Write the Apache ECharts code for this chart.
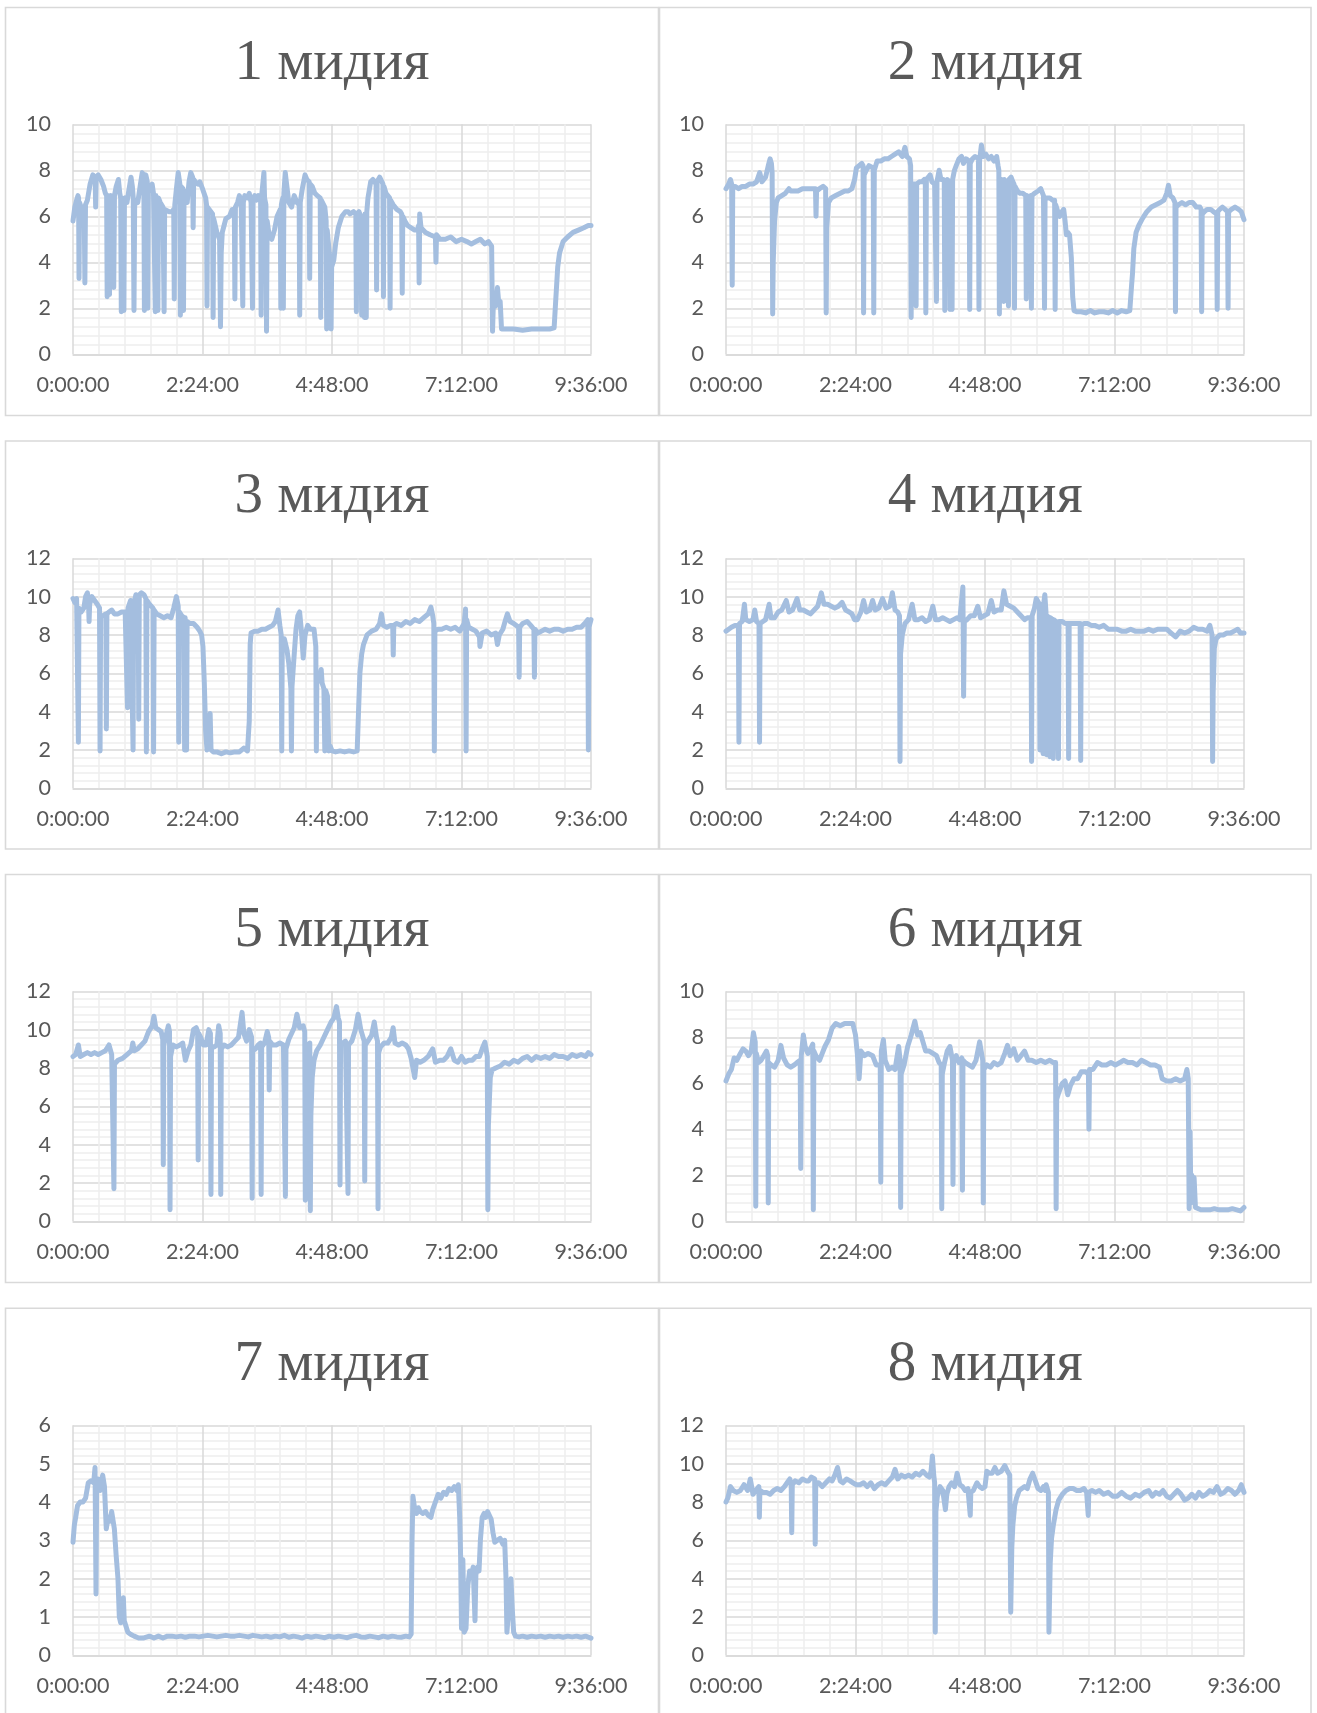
<!DOCTYPE html>
<html>
<head>
<meta charset="utf-8">
<script src="https://cdn.jsdelivr.net/npm/echarts/dist/echarts.min.js"></script>
<style>
  html, body { margin: 0; padding: 0; background: #ffffff; }
  #chart { width: 1317px; height: 1713px; }
</style>
</head>
<body>
<div id="chart"></div>
<script>
// Time axis: minutes from start, labelled as h:mm:ss every 144 minutes
const timeTicks = ['0:00:00', '2:24:00', '4:48:00', '7:12:00', '9:36:00'];
const panelTitles = ['1 мидия', '2 мидия', '3 мидия', '4 мидия', '5 мидия', '6 мидия', '7 мидия', '8 мидия'];
const yMax = [10, 10, 12, 12, 12, 10, 6, 12];
const yStep = [2, 2, 2, 2, 2, 2, 1, 2];

// Each series: [minute, value]
const mussel1 = [[0,5.8],[2,6.4],[4,6.7],[5.5,6.9],[6.2,6.8],[6.7,3.3],[7.3,6.6],[9,6.4],[12.5,6.3],[13.2,3.1],[13.9,6.5],[16,6.7],[19,7.4],[22,7.8],[24.6,7.7],[25.2,6.4],[25.8,7.7],[28,7.8],[31,7.6],[34,7.3],[36,7.0],[37.4,6.9],[38,2.5],[38.6,6.9],[40,6.9],[40.6,2.6],[41.2,6.8],[42,6.9],[44.5,6.8],[45.3,2.9],[46.1,6.9],[48,7.3],[50.5,7.6],[52,7.0],[53,6.8],[53.7,1.85],[54.4,6.8],[56,6.6],[56.6,1.9],[57.2,6.7],[58,6.8],[60,6.6],[62,7.1],[64.5,7.7],[66,7.3],[67,6.8],[67.8,1.9],[68.6,6.7],[72,6.6],[75,7.4],[77,7.9],[78,7.7],[78.8,7.6],[79.4,1.9],[80,7.6],[81,7.8],[82.6,7.5],[83.2,2.0],[83.8,7.2],[86,7.2],[88,7.4],[89.5,7.0],[90.9,7.0],[91.5,1.85],[92.1,6.9],[93.8,6.9],[94.4,1.9],[95,6.8],[97,6.6],[100,6.4],[100.7,6.4],[101.3,1.85],[101.9,6.3],[104,6.3],[107,6.2],[110,6.2],[112,6.3],[112.6,2.4],[113.2,6.5],[115,7.2],[117,7.9],[118.5,7.5],[118.8,7.4],[119.4,1.7],[120,7.3],[121,7.3],[122.3,7.2],[122.9,1.9],[123.5,7.1],[125,6.8],[127,6.6],[129,7.5],[131,7.9],[133,7.7],[133.6,5.5],[134.2,7.6],[136,7.5],[139,7.4],[141,7.5],[144,7.2],[146,7.2],[147.5,6.8],[148.5,6.5],[149,2.1],[149.6,6.4],[151,6.4],[155.2,6.1],[155.8,1.6],[156.4,5.9],[158,5.9],[160,5.3],[163,5.0],[164,1.2],[164.8,4.4],[166,5.3],[168,5.6],[170,5.9],[174,6.0],[177,6.3],[179.4,6.3],[180,2.4],[180.6,6.4],[183,6.6],[185,6.9],[187,6.6],[188.2,6.6],[188.8,2.1],[189.4,6.6],[191,6.9],[194,6.8],[196,7.0],[198,6.6],[199,6.6],[199.6,2.0],[200.2,6.7],[202,6.9],[204,6.7],[206,6.9],[208.6,6.8],[209.2,1.7],[209.8,6.9],[211.5,6.9],[212.3,7.9],[213,6.8],[214.5,6.5],[215.2,1.0],[215.9,5.8],[218,5.2],[221,5.0],[224,5.4],[227,6.0],[230.5,6.3],[231.1,2.0],[231.7,6.5],[233.3,6.8],[233.9,2.0],[234.5,7.0],[236,7.9],[237.5,7.4],[240,6.6],[243,6.4],[246,6.9],[249,6.6],[251.5,6.5],[252.1,1.7],[252.7,6.6],[255,7.2],[258,7.8],[260,7.6],[262.6,7.5],[263.2,3.3],[263.8,7.4],[266,7.3],[269,7.0],[271.5,6.9],[274.9,6.8],[275.5,1.6],[276.1,6.7],[278,6.7],[280,6.4],[281.5,5.8],[282.1,1.1],[282.7,5.4],[285,4.4],[286.5,4.0],[287,1.1],[287.6,3.8],[290,4.1],[292,4.8],[295,5.5],[299,6.0],[303,6.2],[306,6.2],[308,6.1],[312,6.2],[314.5,6.1],[315.1,1.85],[315.7,6.1],[318,6.2],[320,6.0],[321,1.7],[321.6,6.0],[323.5,6.0],[324.1,1.6],[324.7,6.1],[325.5,5.8],[326.1,1.6],[326.7,6.2],[328,6.8],[331,7.5],[333.5,7.6],[337,7.4],[337.6,2.8],[338.2,7.5],[341,7.7],[343.5,7.5],[344.6,7.4],[345.2,2.5],[345.8,7.3],[348,7.0],[352,6.8],[352.6,2.0],[353.2,6.7],[356,6.5],[360,6.3],[364,6.2],[365.5,6.1],[366.1,2.65],[366.7,6.0],[369,5.8],[372,5.6],[376,5.5],[380,5.4],[383,5.4],[384.3,5.6],[384.9,3.1],[385.5,6.1],[387,5.5],[392,5.3],[397,5.2],[403,5.1],[403.6,4.0],[404.2,5.2],[408,5.0],[414,5.0],[420,5.1],[426,4.9],[432,5.0],[438,4.9],[443,4.8],[448,4.9],[453,5.0],[458,4.8],[462,4.9],[465.5,4.7],[466.5,1.0],[467.5,2.3],[470,2.1],[472,2.9],[473.5,2.2],[475,2.3],[476.5,1.1],[480,1.1],[490,1.1],[500,1.05],[510,1.1],[520,1.1],[530,1.1],[535,1.15],[537,2.5],[539,3.8],[541,4.4],[545,4.9],[550,5.1],[556,5.3],[562,5.4],[568,5.5],[573,5.6],[576,5.6]];

const mussel2 = [[0,7.2],[3,7.4],[5,7.6],[6.3,7.4],[6.9,3.0],[7.5,7.3],[10,7.3],[14,7.2],[18,7.3],[22,7.3],[26,7.4],[30,7.4],[34,7.5],[37.5,7.9],[40,7.5],[44,7.7],[47,8.2],[49,8.5],[50.5,8.3],[51.3,7.9],[51.9,1.75],[52.5,4.0],[54,5.8],[56,6.6],[58,6.8],[62,6.9],[66,7.0],[70,7.2],[72,7.1],[76,7.1],[80,7.1],[85,7.2],[90,7.2],[95,7.2],[99.5,7.2],[100.1,6.0],[100.7,7.1],[104,7.2],[108,7.3],[110.8,7.2],[111.4,1.8],[112,5.5],[114,6.6],[117,6.8],[122,6.9],[127,7.0],[132,7.1],[136,7.1],[140,7.2],[143,7.6],[145,8.1],[148,8.2],[151,8.3],[152.4,8.2],[153,1.8],[153.6,7.8],[156,8.0],[159,8.2],[163.7,8.1],[164.3,1.8],[164.9,8.0],[168,8.4],[172,8.4],[176,8.5],[180,8.5],[184,8.6],[188,8.7],[192,8.8],[196,8.6],[199,9.0],[201,8.6],[204,8.5],[205.3,8.2],[205.9,1.6],[206.5,7.3],[208,7.4],[210.8,7.4],[211.4,2.1],[212,7.4],[215,7.5],[218,7.5],[220.5,7.6],[221.6,7.5],[222.2,1.8],[222.8,7.6],[225,7.7],[227,7.8],[229,7.5],[232,7.4],[233.4,7.4],[234,2.3],[234.6,7.5],[237,8.0],[239,7.6],[241.5,7.6],[242.7,7.5],[243.3,1.9],[243.9,7.4],[246,7.6],[248.5,7.5],[249.1,1.95],[249.7,7.4],[250.8,7.5],[251.4,1.95],[252,7.6],[254,8.0],[256,8.2],[259,8.5],[262,8.6],[264,8.3],[267,8.5],[270.4,8.4],[271,1.95],[271.6,8.3],[274,8.5],[277,8.6],[280.7,8.5],[281.3,1.95],[281.9,8.4],[284,9.1],[286,8.6],[289,8.7],[292,8.5],[295,8.6],[298,8.4],[301,8.6],[302.5,8.2],[303.4,8.0],[304,1.75],[304.6,7.4],[306,7.6],[308.2,7.5],[308.8,2.3],[309.4,7.6],[311,7.5],[313.5,7.5],[314.1,2.1],[314.7,7.6],[317,7.7],[319,7.5],[320.2,7.4],[320.8,2.0],[321.4,7.3],[324,7.1],[327,7.0],[330,7.0],[333.3,6.9],[333.9,2.4],[334.5,6.9],[337,6.8],[339,6.9],[339.6,2.0],[340.2,6.9],[343,7.0],[347,7.1],[350,7.2],[353,6.9],[354.2,2.0],[354.8,6.8],[357,6.8],[360,6.8],[363,6.7],[365.4,6.7],[366,1.95],[366.6,6.5],[369,6.2],[371,6.0],[373.5,6.2],[375.5,6.3],[377,5.8],[378.5,5.2],[380,5.3],[382,5.2],[384,4.2],[385.5,2.5],[387,1.9],[390,1.85],[395,1.85],[400,1.8],[405,1.9],[410,1.8],[415,1.85],[420,1.85],[425,1.8],[430,1.9],[435,1.8],[440,1.9],[445,1.85],[449,1.9],[451,3.0],[452,3.5],[453.5,4.6],[456,5.3],[459,5.6],[463,5.9],[468,6.2],[473,6.4],[478,6.5],[483,6.6],[487,6.7],[490,7.0],[492,7.35],[494,6.9],[497,6.8],[499.2,6.6],[499.8,1.85],[500.4,6.4],[503,6.5],[507,6.6],[511,6.5],[515,6.6],[519,6.6],[523,6.4],[527,6.4],[528.3,6.3],[528.9,1.85],[529.5,6.1],[532,6.2],[535,6.3],[539,6.3],[542,6.2],[545.6,6.1],[546.2,1.95],[546.8,6.2],[549,6.3],[552,6.4],[555,6.3],[557.7,6.2],[558.3,2.0],[558.9,6.2],[562,6.3],[566,6.4],[570,6.3],[573,6.2],[576,5.85]];

const mussel3 = [[0,9.9],[2,9.7],[4,9.9],[5.4,9.8],[6,2.4],[6.6,9.4],[9,9.2],[12,9.4],[14,10.0],[16,10.2],[17.3,9.6],[17.9,8.7],[18.5,9.6],[21,10.0],[24,9.8],[27,9.6],[29.5,9.4],[30.1,1.95],[30.7,9.0],[33,9.0],[36.5,9.1],[37.1,3.1],[37.7,9.1],[40,9.2],[43,9.3],[46,9.1],[50,9.1],[54,9.2],[58,9.2],[60,9.1],[60.6,4.2],[61.2,9.4],[64,9.8],[66.2,9.9],[66.8,2.0],[67.4,9.6],[70,10.1],[72.5,10.0],[73.1,3.6],[73.7,10.1],[76,10.2],[79,10.1],[81,9.9],[81.6,1.9],[82.2,9.8],[85,9.6],[89,9.4],[89.6,1.9],[90.2,9.3],[93,9.1],[97,9.0],[101,8.9],[105,9.0],[109,8.9],[112,9.4],[115,10.0],[117,9.5],[117.6,2.4],[118.2,9.2],[121,9.0],[123.5,8.9],[124.1,2.0],[124.7,8.9],[125.7,8.8],[126.3,2.0],[126.9,8.7],[130,8.6],[134,8.6],[138,8.4],[141,8.2],[143,8.0],[144.5,7.4],[146,5.5],[147.5,3.0],[149,2.0],[151,2.6],[152.5,3.9],[153.5,2.0],[156,1.9],[160,1.9],[165,1.8],[170,1.9],[175,1.85],[180,1.9],[185,1.9],[190,2.1],[194,1.95],[196,3.5],[197,7.5],[198,8.1],[202,8.2],[206,8.2],[210,8.3],[214,8.3],[218,8.4],[222,8.5],[225,8.7],[228,9.3],[230,8.5],[231.5,8.0],[232.1,1.95],[232.7,7.8],[235,7.8],[238,7.2],[240,6.5],[242.3,5.2],[242.9,1.95],[243.5,5.3],[246,7.0],[248,8.3],[250,9.0],[252,9.2],[254,8.2],[256,6.8],[258,8.0],[261,8.5],[264,8.3],[266,8.4],[268,8.3],[270,7.4],[270.6,1.95],[271.2,6.0],[274,5.6],[276,6.2],[277,5.5],[279,5.2],[280,1.95],[281,5.1],[283,4.8],[284.5,1.95],[286,2.2],[288,1.95],[292,1.9],[297,1.95],[302,1.9],[307,1.95],[312,1.9],[316,1.95],[317.5,4.0],[319,6.0],[321,7.0],[323,7.5],[327,8.0],[332,8.2],[337,8.3],[341,8.6],[343,9.1],[345,8.5],[349,8.4],[353,8.5],[355.5,8.5],[356.1,6.95],[356.7,8.5],[360,8.6],[365,8.5],[370,8.7],[375,8.6],[380,8.8],[385,8.7],[390,8.9],[395,9.1],[398,9.45],[400,9.0],[401.2,8.6],[401.8,1.95],[402.4,8.2],[406,8.3],[410,8.3],[415,8.4],[420,8.3],[425,8.4],[430,8.2],[435,8.6],[436.5,9.35],[437.1,1.95],[437.7,8.8],[440,8.4],[444,8.3],[448,8.2],[452,7.9],[452.5,7.4],[455,8.1],[460,8.2],[465,8.0],[470,8.1],[472,7.5],[474,8.0],[478,8.3],[481,8.8],[483,9.1],[486,8.7],[490,8.6],[495.5,8.4],[496.1,5.8],[496.7,8.4],[500,8.6],[505,8.7],[509,8.5],[512.5,8.3],[513.1,5.8],[513.7,8.3],[517,8.1],[521,8.2],[525,8.3],[530,8.2],[535,8.3],[540,8.3],[545,8.2],[550,8.3],[555,8.3],[560,8.4],[565,8.4],[569,8.6],[572.5,8.8],[573.1,2.0],[573.7,8.4],[576,8.8]];

const mussel4 = [[0,8.2],[3,8.3],[6,8.4],[10,8.5],[13.8,8.5],[14.4,2.4],[15,8.6],[18,8.7],[20.5,9.6],[22,8.8],[26,8.7],[30,8.8],[32,9.3],[34,8.7],[36.7,8.6],[37.3,2.4],[37.9,8.6],[41,8.7],[44,8.8],[48,9.6],[50,8.9],[54,8.9],[58,9.2],[62,9.3],[67,9.8],[70,9.2],[74,9.3],[79,9.9],[82,9.3],[86,9.3],[90,9.2],[94,9.1],[98,9.3],[102,9.5],[106,10.2],[109,9.6],[113,9.6],[117,9.5],[121,9.4],[125,9.5],[129,9.7],[133,9.3],[137,9.2],[140,9.1],[143,8.8],[146,8.8],[150,9.2],[153,9.8],[156,9.2],[160,9.3],[163,9.8],[166,9.3],[170,9.4],[174,9.9],[178,9.4],[182,9.5],[185,10.2],[188,9.3],[191,9.2],[192.9,9.0],[193.5,1.4],[194.1,7.0],[196,8.0],[199,8.6],[203,8.8],[207,9.6],[210,8.8],[214,8.8],[218,8.9],[222,8.7],[226,8.8],[230,9.5],[233,8.8],[237,8.8],[241,8.9],[245,8.8],[249,8.7],[253,8.8],[257,8.9],[260,8.8],[262,8.9],[263.4,10.5],[264.2,4.8],[265,8.7],[268,8.8],[272,9.0],[276,9.0],[280,9.5],[283,8.9],[287,9.0],[291,9.1],[295,9.8],[298,9.2],[302,9.3],[306,9.3],[309,10.3],[312,9.6],[316,9.5],[320,9.4],[324,9.2],[328,9.0],[332,8.8],[335,8.9],[339.2,8.9],[339.8,1.4],[340.4,9.0],[343,9.4],[345,9.9],[348.5,9.6],[349.1,2.0],[349.7,9.5],[352,9.4],[352.6,1.8],[353.2,9.6],[354.5,10.1],[355.8,9.2],[356.4,1.75],[357,9.0],[359.5,8.9],[360.1,1.65],[360.7,8.9],[363.3,8.8],[363.9,1.55],[364.5,8.8],[367,8.7],[369.1,8.7],[369.7,1.55],[370.3,8.7],[374,8.7],[377,8.6],[380.4,8.6],[381,1.55],[381.6,8.6],[385,8.6],[390,8.6],[393.8,8.6],[394.4,1.45],[395,8.5],[398,8.6],[402,8.6],[406,8.5],[410,8.5],[415,8.4],[420,8.5],[425,8.3],[430,8.3],[435,8.3],[440,8.2],[445,8.2],[450,8.3],[455,8.2],[460,8.2],[465,8.2],[470,8.3],[475,8.2],[480,8.3],[485,8.3],[490,8.3],[495,8.1],[500,7.9],[505,8.2],[510,8.1],[515,8.2],[520,8.4],[525,8.3],[530,8.3],[535,8.2],[538,8.5],[540.5,8.0],[541.1,1.4],[541.7,5.0],[543,7.3],[545,7.8],[549,8.0],[553,8.0],[557,8.1],[561,8.1],[565,8.2],[569,8.3],[572,8.1],[576,8.1]];

const mussel5 = [[0,8.6],[3,8.7],[6,9.2],[8,8.6],[12,8.7],[16,8.8],[20,8.7],[24,8.8],[28,8.7],[32,8.8],[36,8.9],[40,9.2],[43,8.7],[44.9,8.6],[45.5,1.7],[46.1,8.2],[50,8.4],[55,8.5],[60,8.7],[65,8.9],[66.5,9.3],[68,8.9],[72,9.0],[76,9.2],[80,9.4],[84,9.9],[88,10.2],[90,10.7],[92,10.1],[95,10.0],[98,9.9],[99.8,9.5],[100.4,2.95],[101,9.2],[103,9.3],[106,10.2],[107.3,9.9],[107.9,0.6],[108.5,8.6],[111,9.2],[115,9.1],[119,9.2],[122,9.3],[125,8.4],[128,8.9],[131,9.2],[134,10.0],[137,10.1],[138.6,9.9],[139.2,3.2],[139.8,9.8],[142,9.6],[145,9.2],[148,9.2],[151,10.0],[152.8,9.8],[153.4,1.4],[154,9.1],[157,9.1],[160,9.2],[162,10.2],[163.7,9.8],[164.3,1.4],[164.9,9.0],[168,9.2],[172,9.1],[176,9.2],[180,9.4],[184,9.6],[188,10.9],[190,9.8],[193,9.4],[196,10.0],[198.6,9.6],[199.2,1.2],[199.8,8.9],[203,9.0],[206,9.2],[208.6,9.3],[209.2,1.4],[209.8,9.1],[213,9.3],[216,9.9],[217.6,9.6],[218.2,6.85],[218.8,9.4],[222,9.2],[226,9.2],[230,9.3],[234,9.2],[235.6,9.2],[236.2,1.3],[236.8,9.0],[240,9.5],[243,9.8],[246,10.1],[249,10.8],[252,10.1],[256,10.2],[257.7,9.9],[258.3,1.1],[258.9,8.8],[261,9.2],[263.3,9.3],[263.9,0.55],[264.5,5.5],[266,7.5],[268,8.4],[271,8.9],[275,9.2],[279,9.6],[283,10.0],[287,10.4],[290,10.6],[293,11.2],[295,10.6],[296.3,10.4],[296.9,1.9],[297.5,9.2],[300,9.3],[303,9.4],[305.2,9.4],[305.8,1.45],[306.4,9.2],[310,9.4],[314,10.0],[317,10.8],[320,10.0],[323.8,9.4],[324.4,2.1],[325,9.2],[328,9.4],[332,9.7],[335,10.4],[337.5,9.6],[338.6,9.4],[339.2,0.65],[339.8,8.8],[342,9.1],[346,9.3],[350,9.3],[354,9.6],[356,10.1],[358,9.3],[362,9.2],[366,9.3],[370,9.2],[373,9.0],[376,8.5],[380,7.5],[382,8.4],[386,8.3],[390,8.4],[395,8.6],[400,9.0],[403,8.3],[408,8.4],[412,8.4],[416,8.6],[420,9.0],[424,8.4],[428,8.3],[432,8.6],[436,8.3],[440,8.4],[444,8.4],[448,8.6],[452,8.6],[455,9.0],[458,9.35],[460.7,8.6],[461.3,0.6],[461.9,5.0],[464,7.5],[466,7.9],[470,8.0],[475,8.1],[480,8.3],[485,8.2],[490,8.4],[495,8.3],[500,8.5],[505,8.6],[510,8.4],[515,8.6],[520,8.5],[525,8.6],[530,8.5],[535,8.7],[540,8.6],[545,8.6],[550,8.5],[555,8.7],[560,8.6],[565,8.7],[570,8.6],[573,8.8],[576,8.7]];

const mussel6 = [[0,6.1],[3,6.4],[6,6.6],[9,7.1],[12,7.0],[16,7.3],[19,7.5],[22,7.4],[25,7.2],[28,7.4],[30.5,8.2],[32.5,7.8],[33.1,0.65],[33.7,7.3],[36,6.9],[39,7.0],[42,7.2],[45,7.4],[46.4,7.2],[47,0.8],[47.6,6.9],[50,6.8],[54,6.7],[58,7.0],[61,7.65],[64,7.1],[68,6.8],[72,6.7],[76,6.8],[79,6.9],[82.5,7.0],[83.1,2.3],[83.7,7.2],[86,8.1],[88,7.6],[91,7.3],[94,7.5],[96.5,7.7],[97.1,0.5],[97.7,7.4],[100,7.2],[104,7.0],[107,7.3],[110,7.6],[114,7.9],[118,8.4],[122,8.6],[127,8.5],[132,8.6],[137,8.6],[141,8.6],[144,8.1],[146,7.3],[148,6.2],[150,7.4],[154,7.2],[158,7.3],[163,7.2],[167,6.8],[171.5,6.8],[172.1,1.7],[172.7,7.4],[175,7.9],[177,7.0],[181,6.6],[185,6.7],[188,6.6],[192,7.6],[193.6,7.0],[194.2,0.6],[194.8,6.4],[198,6.8],[202,7.6],[206,8.1],[210,8.7],[213,8.1],[216,8.2],[219,7.8],[222,7.4],[226,7.4],[230,7.3],[234,7.2],[237,6.9],[239.3,6.8],[239.9,0.55],[240.5,6.4],[243,6.9],[246,7.4],[249,7.6],[251.8,7.0],[252.4,1.6],[253,6.9],[256,7.2],[259,6.9],[262.3,7.1],[262.9,1.35],[263.5,7.0],[266,6.9],[270,6.8],[274,6.7],[278,7.0],[282,7.8],[285.5,7.0],[286.1,0.8],[286.7,6.6],[290,6.8],[294,6.7],[298,6.9],[302,6.8],[306,6.9],[310,7.3],[313,7.65],[316,7.2],[320,7.5],[324,7.0],[328,7.2],[332,7.4],[336,7.0],[340,7.0],[345,6.9],[350,7.0],[355,6.9],[360,7.0],[364,6.9],[366.5,6.9],[367.1,0.55],[367.7,5.3],[370,5.6],[374,6.0],[377,6.1],[380,5.5],[383,5.9],[387,6.2],[391,6.2],[395,6.5],[400,6.5],[403,6.4],[403.6,4.0],[404.2,6.6],[408,6.6],[413,6.9],[418,6.8],[423,6.8],[428,6.9],[433,6.8],[438,6.9],[442,7.0],[447,6.9],[452,6.9],[457,6.8],[462,7.0],[467,6.9],[472,6.8],[477,6.8],[482,6.7],[485,6.2],[490,6.1],[495,6.1],[500,6.2],[505,6.1],[510,6.2],[512.5,6.6],[514,6.2],[515,0.55],[516,3.9],[517,0.8],[518,2.0],[519.5,1.3],[520.5,1.9],[522,0.6],[524,0.55],[528,0.5],[533,0.5],[538,0.5],[543,0.55],[548,0.5],[553,0.5],[558,0.5],[563,0.55],[568,0.5],[572,0.45],[576,0.6]];

const mussel7 = [[0,2.95],[1.5,3.4],[3,3.6],[5,3.9],[8,4.0],[11,4.0],[14,4.1],[17,4.5],[20,4.55],[23,4.5],[24.5,4.9],[25.2,4.95],[25.6,1.6],[26.3,4.5],[28,4.6],[30,4.3],[33,4.7],[35,4.4],[37,3.3],[39,3.6],[41,3.5],[43,3.75],[46,3.3],[48,2.6],[50,2.0],[51.5,1.0],[53,0.85],[55,0.8],[56,1.5],[57,0.9],[59,0.75],[61,0.6],[64,0.55],[68,0.5],[73,0.45],[78,0.45],[85,0.5],[90,0.45],[95,0.5],[100,0.45],[105,0.5],[110,0.5],[115,0.48],[120,0.5],[125,0.47],[130,0.5],[135,0.5],[140,0.48],[145,0.5],[150,0.52],[155,0.5],[160,0.48],[165,0.5],[170,0.52],[175,0.5],[180,0.5],[185,0.52],[190,0.5],[195,0.48],[200,0.52],[205,0.5],[210,0.48],[215,0.5],[220,0.47],[225,0.5],[230,0.48],[235,0.52],[240,0.47],[245,0.5],[250,0.48],[255,0.45],[260,0.5],[265,0.47],[270,0.5],[275,0.48],[280,0.46],[285,0.5],[290,0.47],[295,0.5],[300,0.48],[305,0.46],[310,0.5],[315,0.52],[320,0.48],[325,0.47],[330,0.5],[335,0.48],[340,0.46],[345,0.5],[350,0.47],[355,0.5],[360,0.48],[365,0.47],[370,0.5],[374,0.48],[376,0.55],[377,3.0],[378,4.15],[380,3.8],[382,3.7],[384,3.85],[386,3.75],[389,3.7],[392,3.75],[395,3.65],[398,3.6],[400,3.8],[403,4.0],[406,4.2],[409,4.1],[412,4.25],[415,4.2],[418,4.35],[421,4.3],[424,4.4],[427,4.3],[428.5,4.45],[430,3.6],[431,2.6],[432,0.7],[433.5,2.5],[435,0.6],[437,0.7],[439,1.8],[441,2.2],[443,2.1],[445,2.3],[447,0.9],[448,2.1],[450,2.3],[451.5,2.2],[453,3.0],[455,3.6],[457,3.7],[459,3.6],[461,3.75],[463,3.7],[465,3.55],[467,3.2],[469,2.95],[472,3.0],[475,3.05],[478,2.9],[480,3.0],[481.5,2.0],[482.5,0.6],[484,0.65],[485.5,1.5],[487,2.0],[488.5,1.2],[490,0.6],[492,0.5],[496,0.48],[500,0.5],[505,0.47],[510,0.5],[515,0.48],[520,0.5],[525,0.47],[530,0.5],[535,0.48],[540,0.5],[545,0.47],[550,0.5],[555,0.48],[560,0.5],[565,0.47],[570,0.5],[576,0.45]];

const mussel8 = [[0,8.0],[2,8.2],[5,8.8],[8,8.6],[12,8.5],[16,8.6],[20,8.9],[24,8.6],[27,9.2],[30,8.4],[33,8.6],[36.5,8.8],[37.1,7.2],[37.7,8.6],[41,8.5],[45,8.5],[49,8.4],[53,8.6],[57,8.7],[61,8.6],[65,8.8],[68,9.0],[71,9.2],[72.5,8.9],[73.1,6.4],[73.7,8.9],[77,9.1],[81,9.0],[85,9.2],[89,9.1],[92,9.1],[95,9.3],[98.6,9.2],[99.2,5.8],[99.8,9.0],[103,9.0],[107,8.8],[111,9.0],[115,9.2],[118,9.1],[121,9.4],[124,9.8],[127,9.1],[130,9.0],[134,9.2],[138,9.1],[141,9.0],[145,8.9],[149,8.9],[153,9.0],[157,8.8],[161,9.0],[165,8.7],[169,8.9],[173,9.0],[177,8.9],[181,9.1],[185,9.3],[188,9.7],[191,9.2],[195,9.4],[199,9.3],[203,9.4],[207,9.3],[211,9.5],[215,9.4],[219,9.6],[223,9.4],[226,9.3],[228,9.6],[229.5,10.4],[231,9.4],[232,9.0],[232.7,1.2],[233.4,7.5],[235,8.3],[238,8.8],[241,8.6],[244,7.6],[245.5,8.4],[248,8.8],[251,9.0],[254,8.8],[257,9.5],[260,8.9],[263,8.8],[266,8.6],[269,8.7],[271,8.6],[271.6,7.3],[272.2,8.5],[275,8.6],[279,9.0],[282,8.8],[285,8.7],[288,8.8],[290,9.6],[293,9.5],[296,9.5],[299,9.8],[302,9.5],[306,9.6],[310,9.9],[313,9.6],[315.5,9.4],[316.6,2.25],[317.8,5.6],[319,6.8],[321,7.8],[323,8.2],[326,8.6],[329,8.7],[332,8.8],[335,8.7],[338,9.2],[341,9.5],[344,9.1],[347,8.7],[350,8.6],[353,8.8],[355,8.6],[356,8.9],[358.5,8.5],[359.1,1.2],[360.5,4.8],[362,6.1],[364,6.8],[367,7.6],[370,8.1],[374,8.4],[378,8.6],[382,8.7],[386,8.7],[390,8.6],[394,8.6],[398,8.7],[401,8.5],[402.2,8.4],[402.8,7.3],[403.4,8.5],[407,8.6],[411,8.5],[415,8.6],[420,8.4],[425,8.5],[430,8.3],[435,8.3],[440,8.5],[445,8.3],[450,8.2],[455,8.4],[460,8.3],[465,8.5],[470,8.6],[474,8.3],[478,8.5],[482,8.4],[486,8.6],[490,8.3],[494,8.2],[498,8.4],[502,8.6],[506,8.4],[510,8.1],[514,8.2],[518,8.4],[522,8.2],[526,8.5],[530,8.3],[534,8.4],[538,8.6],[542,8.5],[546,8.8],[550,8.4],[554,8.5],[558,8.7],[562,8.6],[566,8.4],[570,8.6],[573,8.9],[576,8.5]];

const seriesData = [mussel1, mussel2, mussel3, mussel4, mussel5, mussel6, mussel7, mussel8];

// Page layout: 2 columns x 4 rows of framed panels
const panelLeft = [5.5, 659.5];
const panelWidth = [653, 651.5];
const panelTop = [7.5, 441, 874.5, 1308.3];
const panelHeight = 408;
const plotLeft = [73, 726];
const plotWidth = 518;
const plotTop = [124.3, 558.3, 991.3, 1425.3];
const plotHeight = 230;

const LINE = '#a4bedf';
const TEXT = '#595959';
const MAJOR = '#d9d9d9';
const MINOR = '#eeeeee';
const LABEL_FONT = 'Lato';

const grids = [], xAxes = [], yAxes = [], titles = [], series = [], graphics = [];

for (let i = 0; i < 8; i++) {
  const col = i % 2, row = Math.floor(i / 2);
  graphics.push({
    type: 'rect', z: -1,
    shape: { x: panelLeft[col], y: panelTop[row], width: panelWidth[col], height: panelHeight },
    style: { fill: '#ffffff', stroke: '#d9d9d9', lineWidth: 1.6 }
  });
  titles.push({
    text: panelTitles[i],
    left: panelLeft[col] + panelWidth[col] / 2 - 5,
    top: panelTop[row] + 23,
    textAlign: 'center',
    textStyle: { fontFamily: 'Liberation Serif', fontSize: 57, fontWeight: 'normal', color: TEXT }
  });
  grids.push({ left: plotLeft[col], top: plotTop[row], width: plotWidth, height: plotHeight, containLabel: false });
  xAxes.push({
    gridIndex: i, type: 'value', min: 0, max: 576, interval: 144,
    axisLine: { show: true, lineStyle: { color: MAJOR, width: 1.5 } },
    axisTick: { show: false },
    minorTick: { show: false, splitNumber: 5 },
    splitLine: { show: true, lineStyle: { color: MAJOR, width: 1.5 } },
    minorSplitLine: { show: true, lineStyle: { color: MINOR, width: 1.5 } },
    axisLabel: {
      margin: 20, color: TEXT, fontFamily: LABEL_FONT, fontSize: 21.5,
      formatter: v => timeTicks[Math.round(v / 144)]
    }
  });
  yAxes.push({
    gridIndex: i, type: 'value', min: 0, max: yMax[i], interval: yStep[i],
    axisLine: { show: false },
    axisTick: { show: false },
    minorTick: { show: false, splitNumber: 5 },
    splitLine: { show: true, lineStyle: { color: MAJOR, width: 1.5 } },
    minorSplitLine: { show: true, lineStyle: { color: MINOR, width: 1.5 } },
    axisLabel: { margin: 22, color: TEXT, fontFamily: LABEL_FONT, fontSize: 21.5 }
  });
  series.push({
    type: 'line', xAxisIndex: i, yAxisIndex: i,
    data: seriesData[i],
    showSymbol: false, symbol: 'none',
    lineStyle: { color: LINE, width: 5, join: 'round', cap: 'round' },
    silent: true
  });
}

const chart = echarts.init(document.getElementById('chart'), null, { renderer: 'canvas' });
chart.setOption({
  animation: false,
  backgroundColor: '#ffffff',
  graphic: graphics,
  title: titles,
  grid: grids,
  xAxis: xAxes,
  yAxis: yAxes,
  series: series
});
</script>
</body>
</html>
